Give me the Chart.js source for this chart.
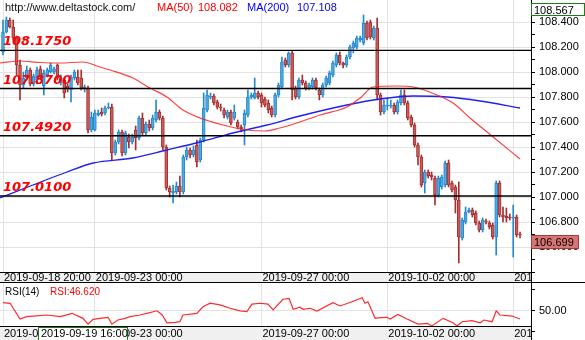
<!DOCTYPE html>
<html><head><meta charset="utf-8">
<script src="https://cdn.jsdelivr.net/npm/chart.js@4.4.1/dist/chart.umd.min.js"></script>
<style>
html,body{margin:0;padding:0;background:#fff;}
#wrap{position:relative;width:585px;height:340px;overflow:hidden;background:#fff;}
#mainBox{position:absolute;left:0;top:0;width:585px;height:283px;}
#rsiBox{position:absolute;left:0;top:283px;width:585px;height:57px;}
</style></head><body>
<div id="wrap">
<div id="mainBox"><canvas id="main" width="585" height="283"></canvas></div>
<div id="rsiBox"><canvas id="rsi" width="585" height="57"></canvas></div>
</div>
<script>
// ---------- DATA (2-hour USD/JPY candles) ----------
const open = [
108.162,108.322,108.418,108.362,108.274,108.058,107.898,107.954,108.018,107.906,
107.938,108.026,107.89,107.978,108.002,108.002,108.058,107.914,107.938,107.89,
107.858,107.954,107.962,107.954,107.866,107.874,107.538,107.538,107.658,107.682,
107.674,107.714,107.722,107.354,107.442,107.522,107.354,107.482,107.442,107.538,
107.474,107.634,107.514,107.586,107.554,107.618,107.682,107.634,107.402,107.074,
107.034,107.042,107.09,107.042,107.322,107.378,107.338,107.418,107.298,107.458,
107.698,107.802,107.81,107.762,107.722,107.698,107.642,107.682,107.634,107.602,
107.562,107.578,107.658,107.802,107.794,107.834,107.818,107.786,107.754,107.714,
107.658,107.818,107.882,108.098,108.058,108.154,107.874,107.802,107.938,107.914,
107.874,107.882,107.938,107.858,107.818,107.898,107.914,107.978,108.058,108.138,
108.074,108.058,108.122,108.194,108.202,108.258,108.234,108.394,108.402,108.274,
108.354,107.818,107.682,107.73,107.73,107.738,107.682,107.754,107.818,107.754,
107.642,107.578,107.418,107.322,107.114,107.202,107.178,107.154,107.018,107.082,
107.098,107.274,107.114,107.082,106.978,106.674,106.802,106.882,106.898,106.874,
106.794,106.738,106.81,106.794,106.778,106.682,107.114,106.858,106.85,106.842,
106.834,106.842,106.706];
const high = [
108.418,108.442,108.434,108.418,108.29,108.098,108.002,108.05,108.034,107.986,
108.042,108.05,108.018,108.034,108.074,108.042,108.066,107.978,107.954,107.906,
107.978,108.018,108.018,108.018,107.898,107.89,107.682,107.698,107.698,107.714,
107.73,107.754,107.746,107.458,107.538,107.538,107.53,107.506,107.506,107.57,
107.65,107.674,107.602,107.618,107.658,107.778,107.698,107.65,107.418,107.09,
107.098,107.122,107.17,107.338,107.402,107.394,107.41,107.458,107.474,107.834,
107.858,107.834,107.826,107.778,107.746,107.714,107.698,107.698,107.738,107.618,
107.578,107.698,107.858,107.834,107.954,107.85,107.834,107.802,107.778,107.73,
107.834,107.914,108.122,108.114,108.162,108.17,107.89,107.954,107.978,107.93,
107.914,107.954,107.954,107.874,107.914,107.97,108.01,108.09,108.154,108.162,
108.082,108.138,108.218,108.25,108.29,108.29,108.458,108.41,108.418,108.37,
108.434,107.834,107.778,107.794,107.778,107.754,107.778,107.858,107.858,107.77,
107.658,107.594,107.434,107.338,107.218,107.218,107.202,107.17,107.17,107.178,
107.29,107.298,107.13,107.098,107.122,106.834,106.922,106.914,106.914,106.89,
106.81,106.834,106.826,106.81,106.794,107.13,107.13,106.922,106.914,106.866,
106.938,106.858,106.722];
const low = [
108.138,108.314,108.354,108.258,107.978,107.778,107.874,107.938,107.89,107.89,
107.906,107.946,107.818,107.962,107.994,107.986,107.938,107.898,107.794,107.842,
107.762,107.938,107.898,107.858,107.842,107.514,107.522,107.53,107.65,107.65,
107.658,107.706,107.298,107.338,107.426,107.33,107.338,107.394,107.426,107.378,
107.458,107.498,107.498,107.53,107.538,107.602,107.618,107.378,107.058,107.002,
106.954,107.026,107.002,107.026,107.298,107.314,107.322,107.242,107.282,107.442,
107.682,107.786,107.738,107.706,107.69,107.634,107.626,107.578,107.618,107.546,
107.522,107.418,107.642,107.786,107.786,107.786,107.722,107.722,107.674,107.642,
107.642,107.802,107.866,108.042,108.042,107.778,107.786,107.786,107.898,107.858,
107.858,107.866,107.858,107.778,107.802,107.882,107.898,107.962,108.042,108.058,
108.034,108.042,108.106,108.154,108.186,108.242,108.218,108.258,108.266,108.258,
107.778,107.658,107.666,107.698,107.714,107.666,107.666,107.738,107.738,107.618,
107.562,107.402,107.258,107.082,107.034,107.154,107.138,106.938,107.002,107.066,
107.082,107.082,107.042,106.874,106.474,106.658,106.786,106.874,106.842,106.778,
106.722,106.722,106.786,106.746,106.666,106.538,106.842,106.802,106.802,106.818,
106.522,106.682,106.674];
const close = [
108.322,108.418,108.362,108.274,108.058,107.898,107.954,108.018,107.906,107.97,
108.018,107.962,107.994,108.018,108.058,108.026,107.954,107.954,107.834,107.874,
107.962,108.002,107.914,107.874,107.882,107.538,107.642,107.674,107.674,107.666,
107.714,107.722,107.354,107.442,107.522,107.354,107.514,107.442,107.482,107.474,
107.634,107.514,107.586,107.554,107.634,107.682,107.634,107.402,107.074,107.042,
107.05,107.09,107.042,107.322,107.378,107.338,107.378,107.282,107.458,107.714,
107.818,107.81,107.754,107.722,107.714,107.658,107.682,107.594,107.682,107.562,
107.546,107.674,107.802,107.818,107.834,107.802,107.754,107.738,107.698,107.658,
107.818,107.898,108.082,108.058,108.154,107.858,107.802,107.938,107.914,107.874,
107.898,107.938,107.874,107.818,107.898,107.954,107.994,108.074,108.138,108.074,
108.058,108.122,108.202,108.234,108.274,108.274,108.394,108.274,108.282,108.354,
107.818,107.682,107.738,107.738,107.738,107.682,107.762,107.818,107.754,107.634,
107.578,107.418,107.322,107.098,107.202,107.17,107.162,107.018,107.154,107.162,
107.274,107.098,107.058,106.978,106.682,106.818,106.882,106.898,106.858,106.794,
106.738,106.818,106.802,106.762,106.682,107.114,106.858,106.842,106.834,106.834,
106.842,106.698,106.699];

// moving averages, read at sample bars
const ma50Idx = [-0.9,5,10.9,16.8,23.5,28.5,31.5,38.2,43.2,48.2,52.9,57.9,64.7,71.7,77,81.4,87.3,93.2,101.1,105,108.8,115.8,120.6,127.6,132.3,137.3,144.1,152];
const ma50Val = [108.074,108.09,108.078,108.074,108.082,108.042,108.018,107.954,107.874,107.802,107.698,107.634,107.578,107.538,107.53,107.554,107.602,107.658,107.722,107.794,107.882,107.89,107.882,107.818,107.754,107.634,107.482,107.306];
const ma200Idx = [-0.9,8.8,18.8,26.5,38.2,48.2,57.9,67.6,77.6,87.3,101.1,110.8,120.6,130.5,140.3,152];
const ma200Val = [106.994,107.098,107.202,107.274,107.314,107.378,107.442,107.514,107.578,107.65,107.738,107.786,107.81,107.802,107.77,107.714];

// RSI(14), read at its vertices
const rsiIdx = [0,2.1,5,7,8.8,12.9,16.8,20.3,23.5,25,26.5,28.5,30.9,32,33.8,35.9,37.3,40.3,42.3,45.3,46.8,48.2,50.6,52,52.9,57,58.8,60.9,63.8,66.8,69.7,71.7,73.2,75.6,77.9,79.4,82.3,84.1,85.3,87.3,88.2,90.3,92.3,97,99.1,102.6,105.6,106.4,107.3,109.4,111.1,112.9,113.8,116.1,118.8,122,124.7,126.1,129.4,132.3,133.5,135,137.9,140.3,141.4,143.8,145,146.1,149.7,150.6,152];
const rsiVal = [53.95,53.67,46.19,47.3,47.6,48.1,47.3,48.9,46.5,43.7,46.0,46.5,47.0,43.7,45.7,46.5,47.3,48.1,48.9,50.1,48.1,44.4,44.6,44.9,48.1,48.9,52.0,53.7,52.9,51.3,50.1,49.7,53.3,53.7,53.3,50.5,55.6,56.0,50.8,51.8,50.8,51.3,50.0,53.95,52.4,54.4,56.3,53.7,54.4,46.5,46.8,47.0,46.2,48.4,46.2,43.8,44.1,42.9,46.5,44.4,42.9,44.9,45.4,44.4,45.7,44.9,50.1,48.1,47.6,47.0,46.2];

// horizontal levels
const levels = [108.175, 107.87, 107.492, 107.01];

// axis ticks / labels
const dateTickIdx = [0, 27, 76, 113, 150];
const dateLabels = ['2019-09-18 20:00','2019-09-23 00:00','2019-09-27 00:00','2019-10-02 00:00','2019-10-07 00:00'];
const priceTicks = [106.4,106.5,106.6,106.7,106.8,106.9,107.0,107.1,107.2,107.3,107.4,107.5,107.6,107.7,107.8,107.9,108.0,108.1,108.2,108.3,108.4,108.5];
const priceLabelTicks = [106.6,106.8,107.0,107.2,107.4,107.6,107.8,108.0,108.2,108.4];
const rsiTicks = [40, 50, 60];
const rsiLabelTicks = [50];

const siteText = 'http://www.deltastock.com/';
const ma50Text = ['MA(50)', '108.082'];
const ma200Text = ['MA(200)', '107.108'];
const rsiTitle = 'RSI(14)';
const rsiValueText = 'RSI:46.620';
const topPriceLabel = '108.567';
const crossTimeLabel = '2019-09-19 16:00';

// ---------- RENDER ----------
Chart.defaults.font.family = '"Liberation Sans", Arial, sans-serif';
const X_MIN = -0.882, X_MAX = 155.23;
const UP_FILL = '#4eaae0', UP_LINE = '#2688cc', DN_FILL = '#cc5c5c', DN_LINE = '#a52f2f';
const isUp = i => close[i] >= open[i];
const near = (arr, v) => arr.some(t => Math.abs(t - v) < 1e-6);

const xScale = () => ({
  type: 'linear', min: X_MIN, max: X_MAX, offset: false,
  afterBuildTicks: s => { s.ticks = dateTickIdx.map(v => ({value: v})); },
  afterFit: s => { s.height = 0; s.paddingLeft = 0; s.paddingRight = 0; },
  ticks: {display: false},
  border: {display: false},
  grid: {color: '#e3e3e3', drawTicks: false, offset: false}
});

const mainOverlay = {
  id: 'mainOverlay',
  afterDatasetsDraw(chart) {
    const ctx = chart.ctx, ys = chart.scales.y;
    ctx.save();
    ctx.font = 'italic bold 13px "DejaVu Sans"';
    ctx.fillStyle = '#ff0000';
    ctx.textBaseline = 'alphabetic';
    levels.forEach(v => ctx.fillText(v.toFixed(4), 3, ys.getPixelForValue(v) - 5));
    ctx.restore();
  },
  afterDraw(chart) {
    const ctx = chart.ctx, xs = chart.scales.x, ys = chart.scales.y;
    const ca = chart.chartArea;
    const right = ca.right;
    const bandBot = ca.bottom, bandTop = ca.bottom - 11;
    ctx.save();
    ctx.fillStyle = '#f0f0f0';
    ctx.fillRect(0, bandTop, right, 11);
    ctx.strokeStyle = '#000'; ctx.lineWidth = 1;
    ctx.beginPath();
    ctx.moveTo(0, bandTop + 0.5); ctx.lineTo(right, bandTop + 0.5);
    ctx.moveTo(0, bandBot - 0.5); ctx.lineTo(chart.width, bandBot - 0.5);
    ctx.stroke();
    ctx.save();
    ctx.beginPath(); ctx.rect(0, bandTop, right, 11); ctx.clip();
    ctx.font = '11px "Liberation Sans"'; ctx.fillStyle = '#000'; ctx.textBaseline = 'alphabetic';
    dateTickIdx.forEach((v, k) => ctx.fillText(dateLabels[k], xs.getPixelForValue(v) + 1, bandBot - 2));
    ctx.restore();
    ctx.font = '11px "Liberation Sans"'; ctx.textBaseline = 'alphabetic';
    ctx.fillStyle = '#111'; ctx.fillText(siteText, 5, 11);
    ctx.fillStyle = '#ff0000'; ctx.fillText(ma50Text[0], 157, 11); ctx.fillText(ma50Text[1], 198, 11);
    ctx.fillStyle = '#0000ff'; ctx.fillText(ma200Text[0], 247, 11); ctx.fillText(ma200Text[1], 297, 11);
    ctx.fillStyle = '#fff'; ctx.fillRect(532, 3, 52, 12);
    ctx.strokeStyle = '#1d7a1d'; ctx.strokeRect(531.5, 3.5, 53, 12);
    ctx.fillStyle = '#000'; ctx.fillText(topPriceLabel, 534, 13.5);
    const last = close[close.length - 1];
    const py = Math.round(ys.getPixelForValue(last));
    ctx.fillStyle = '#d87474'; ctx.fillRect(531, py, 48, 14);
    ctx.strokeStyle = '#a83a3a'; ctx.strokeRect(531.5, py + 0.5, 47, 13);
    ctx.fillStyle = '#000'; ctx.fillText(last.toFixed(3), 534, py + 11);
    ctx.restore();
  }
};

new Chart(document.getElementById('main'), {
  type: 'bar',
  data: {
    datasets: [
      ...levels.map(v => ({
        type: 'line', data: [{x: X_MIN, y: v}, {x: X_MAX, y: v}],
        borderColor: '#000', borderWidth: 1.4, pointRadius: 0, order: 0
      })),
      {type: 'line', data: ma50Idx.map((x, k) => ({x, y: ma50Val[k]})),
       borderColor: 'rgba(255,30,30,0.85)', borderWidth: 1.2, pointRadius: 0,
       cubicInterpolationMode: 'monotone', order: 1},
      {type: 'line', data: ma200Idx.map((x, k) => ({x, y: ma200Val[k]})),
       borderColor: '#2020f0', borderWidth: 1.3, pointRadius: 0,
       cubicInterpolationMode: 'monotone', order: 1},
      {type: 'bar', data: close.map((c, i) => ({x: i, y: [open[i], c]})),
       backgroundColor: c => (c.dataIndex === undefined ? UP_FILL : (isUp(c.dataIndex) ? UP_FILL : DN_FILL)),
       borderColor: c => (c.dataIndex === undefined ? UP_LINE : (isUp(c.dataIndex) ? UP_LINE : DN_LINE)),
       borderWidth: 1, borderSkipped: false, barThickness: 3, grouped: false, order: 2},
      {type: 'bar', data: low.map((l, i) => ({x: i, y: [l, high[i]]})),
       backgroundColor: c => (c.dataIndex === undefined ? UP_LINE : (isUp(c.dataIndex) ? UP_LINE : DN_LINE)),
       borderWidth: 0, barThickness: 1, grouped: false, order: 3}
    ]
  },
  options: {
    responsive: false, animation: false, devicePixelRatio: 1,
    layout: {padding: 0},
    plugins: {legend: {display: false}, tooltip: {enabled: false}},
    scales: {
      x: xScale(),
      y: {
        position: 'right', min: 106.314, max: 108.578, beginAtZero: false,
        afterBuildTicks: s => { s.ticks = priceTicks.map(v => ({value: v})); },
        afterFit: s => { s.width = 54; s.paddingTop = 0; s.paddingBottom = 0; },
        ticks: {autoSkip: false, color: '#000', font: {size: 11}, padding: 4,
                callback: v => near(priceLabelTicks, v) ? v.toFixed(3) : ''},
        grid: {color: c => (c.tick && near(priceLabelTicks, c.tick.value)) ? '#e3e3e3' : 'rgba(0,0,0,0)',
               tickColor: '#000', tickLength: 4},
        border: {color: '#000', width: 1}
      }
    }
  },
  plugins: [mainOverlay]
});

const rsiOverlay = {
  id: 'rsiOverlay',
  afterDraw(chart) {
    const ctx = chart.ctx, xs = chart.scales.x, ca = chart.chartArea;
    const right = ca.right, bandTop = 44;
    ctx.save();
    ctx.font = '10px "Liberation Sans"'; ctx.textBaseline = 'alphabetic';
    ctx.fillStyle = '#000'; ctx.fillText(rsiTitle, 5, 12);
    ctx.fillStyle = '#ff0000'; ctx.fillText(rsiValueText, 50, 12);
    ctx.fillStyle = '#f0f0f0'; ctx.fillRect(0, bandTop, right, chart.height - bandTop);
    ctx.strokeStyle = '#000'; ctx.lineWidth = 1;
    ctx.beginPath(); ctx.moveTo(0, bandTop - 0.5); ctx.lineTo(right, bandTop - 0.5); ctx.stroke();
    ctx.save();
    ctx.beginPath(); ctx.rect(0, bandTop, right, chart.height - bandTop); ctx.clip();
    ctx.font = '11px "Liberation Sans"'; ctx.fillStyle = '#000';
    dateTickIdx.forEach((v, k) => ctx.fillText(dateLabels[k], xs.getPixelForValue(v) + 1, 54));
    ctx.fillStyle = '#fff'; ctx.fillRect(38, bandTop, 90, 13);
    ctx.strokeStyle = '#1d7a1d'; ctx.strokeRect(38.5, bandTop + 0.5, 89, 14);
    ctx.fillStyle = '#000'; ctx.fillText(crossTimeLabel, 41, 54);
    ctx.restore();
    ctx.restore();
  }
};

new Chart(document.getElementById('rsi'), {
  type: 'line',
  data: {datasets: [{data: rsiIdx.map((x, k) => ({x, y: rsiVal[k]})),
    borderColor: '#ff2a2a', borderWidth: 1.2, pointRadius: 0, tension: 0}]},
  options: {
    responsive: false, animation: false, devicePixelRatio: 1,
    layout: {padding: 0},
    plugins: {legend: {display: false}, tooltip: {enabled: false}},
    scales: {
      x: xScale(),
      y: {
        position: 'right', min: 36.19, max: 63.333, beginAtZero: false,
        afterBuildTicks: s => { s.ticks = rsiTicks.map(v => ({value: v})); },
        afterFit: s => { s.width = 54; s.paddingTop = 0; s.paddingBottom = 0; },
        ticks: {autoSkip: false, color: '#000', font: {size: 11}, padding: 4,
                callback: v => near(rsiLabelTicks, v) ? v.toFixed(2) : ''},
        grid: {color: c => (c.tick && near(rsiLabelTicks, c.tick.value)) ? '#e3e3e3' : 'rgba(0,0,0,0)',
               tickColor: '#000', tickLength: 4},
        border: {color: '#000', width: 1}
      }
    }
  },
  plugins: [rsiOverlay]
});
</script>
</body></html>
